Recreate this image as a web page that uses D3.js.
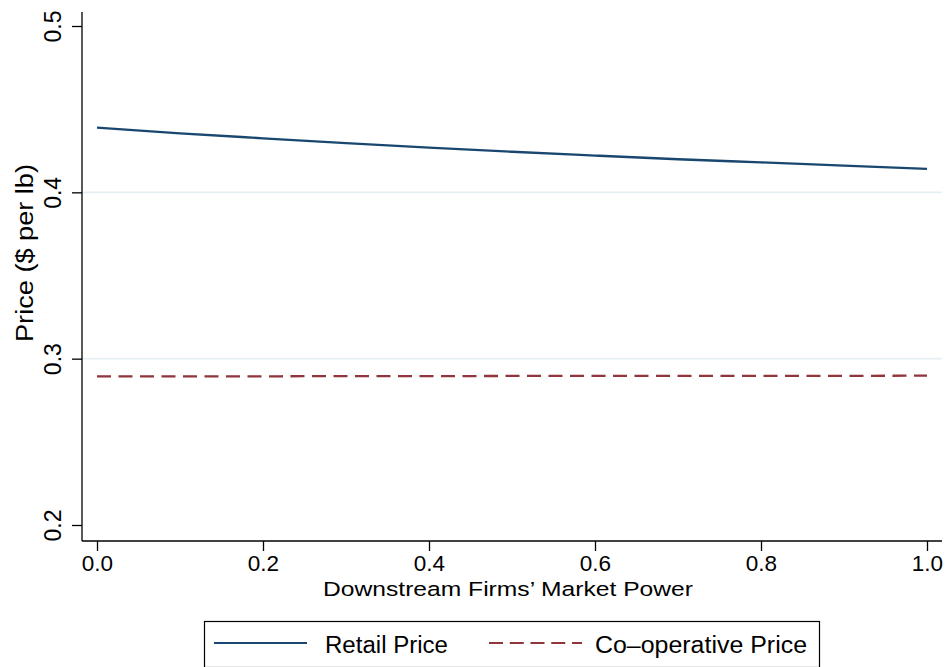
<!DOCTYPE html>
<html>
<head>
<meta charset="utf-8">
<script src="https://cdn.jsdelivr.net/npm/d3@7"></script>
<style>
  html, body { margin: 0; padding: 0; background: #fff; }
  svg { display: block; font-family: "Liberation Sans", Arial, Helvetica, sans-serif; }
</style>
</head>
<body>
<svg id="chart" width="951" height="667"></svg>
<script>
// ---- data ----
const marketPower = [0.0, 0.1, 0.2, 0.3, 0.4, 0.5, 0.6, 0.7, 0.8, 0.9, 1.0];
const retailPrice = [0.4389, 0.4355, 0.4325, 0.4296, 0.4269, 0.4244, 0.4221, 0.4199, 0.4180, 0.4161, 0.4141];
const coopPrice   = [0.2893, 0.2894, 0.2894, 0.2895, 0.2895, 0.2896, 0.2896, 0.2896, 0.2897, 0.2897, 0.2898];
const xTicks = [0.0, 0.2, 0.4, 0.6, 0.8, 1.0];
const yTicks = [0.2, 0.3, 0.4, 0.5];
const gridTicks = [0.3, 0.4];
const seriesNames = ["Retail Price", "Co\u2013operative Price"];
const xTitle = "Downstream Firms\u2019 Market Power";
const yTitle = "Price ($ per lb)";

const svg = d3.select("#chart");
const plot = { left: 82, right: 942, top: 12, bottom: 541 };
const x = d3.scaleLinear().domain([0, 1]).range([97, 927]);
const y = d3.scaleLinear().domain([0.2, 0.5]).range([525, 26]);

const colors = ["#1a476f", "#90353b"];
const FONT = "'Liberation Sans', Arial, Helvetica, sans-serif";

// gridlines
svg.append("g").selectAll("line").data(gridTicks).join("line")
  .attr("x1", plot.left).attr("x2", plot.right)
  .attr("y1", d => y(d)).attr("y2", d => y(d))
  .attr("stroke", "#e6eff1").attr("stroke-width", 1.8);

// lines
const line = d3.line().x(d => x(d[0])).y(d => y(d[1])).curve(d3.curveMonotoneX);
const retailData = marketPower.map((m, i) => [m, retailPrice[i]]);
const coopData = marketPower.map((m, i) => [m, coopPrice[i]]);

svg.append("path").datum(retailData).attr("d", line)
  .attr("fill", "none").attr("stroke", colors[0]).attr("stroke-width", 2.3);
svg.append("path").datum(coopData).attr("d", line)
  .attr("fill", "none").attr("stroke", colors[1]).attr("stroke-width", 2.3)
  .attr("stroke-dasharray", "14,7.5");

// y axis
const yAxis = svg.append("g").attr("transform", `translate(${plot.left},0)`)
  .call(d3.axisLeft(y).tickValues(yTicks).tickSize(10).tickSizeOuter(0).tickFormat(d3.format(".1f")));
yAxis.attr("font-size", null).attr("font-family", null);
yAxis.select(".domain").attr("d", `M0,${plot.top}V${plot.bottom}`).attr("stroke", "#000").attr("stroke-width", 1.3);
yAxis.selectAll(".tick line").attr("stroke", "#000").attr("stroke-width", 1.3);
yAxis.selectAll(".tick text")
  .attr("x", 0).attr("y", -21).attr("dy", null)
  .attr("transform", "rotate(-90)")
  .attr("text-anchor", "middle")
  .attr("fill", "#000")
  .style("font-size", "23px")
  .style("font-family", FONT);

// x axis
const xAxis = svg.append("g").attr("transform", `translate(0,${plot.bottom})`)
  .call(d3.axisBottom(x).tickValues(xTicks).tickSize(10).tickSizeOuter(0).tickFormat(d3.format(".1f")));
xAxis.attr("font-size", null).attr("font-family", null);
xAxis.select(".domain").attr("d", `M${plot.left},0H${plot.right}`).attr("stroke", "#000").attr("stroke-width", 1.3);
xAxis.selectAll(".tick line").attr("stroke", "#000").attr("stroke-width", 1.3);
xAxis.selectAll(".tick text")
  .attr("y", 30).attr("dy", null)
  .attr("fill", "#000")
  .style("font-size", "22.5px")
  .style("font-family", FONT);

// axis titles
svg.append("text")
  .attr("x", 508).attr("y", 595.5)
  .attr("text-anchor", "middle")
  .style("font-size", "20.5px")
  .attr("textLength", 370).attr("lengthAdjust", "spacingAndGlyphs")
  .text(xTitle);

svg.append("text")
  .attr("transform", "translate(33,253) rotate(-90)")
  .attr("text-anchor", "middle")
  .style("font-size", "23.5px")
  .attr("textLength", 178).attr("lengthAdjust", "spacingAndGlyphs")
  .text(yTitle);

// legend
const legend = svg.append("g");
legend.append("rect")
  .attr("x", 204.5).attr("y", 621.5).attr("width", 615).attr("height", 46)
  .attr("fill", "#fff").attr("stroke", "#000").attr("stroke-width", 1.2);

const keyX = [214, 489];
const textX = [325, 595];
const textLen = [123, 212];
seriesNames.forEach((name, i) => {
  legend.append("line")
    .attr("x1", keyX[i]).attr("x2", keyX[i] + 93)
    .attr("y1", 643).attr("y2", 643)
    .attr("stroke", colors[i]).attr("stroke-width", 2.2)
    .attr("stroke-dasharray", i === 1 ? "14,6.75" : null);
  legend.append("text")
    .attr("x", textX[i]).attr("y", 653)
    .style("font-size", "23.5px")
    .attr("textLength", textLen[i]).attr("lengthAdjust", "spacingAndGlyphs")
    .text(name);
});
</script>
</body>
</html>
